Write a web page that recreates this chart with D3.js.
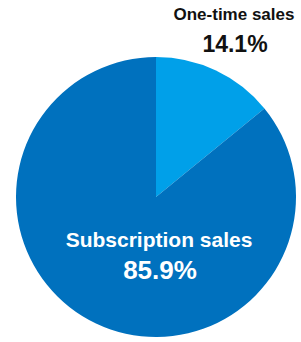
<!DOCTYPE html>
<html>
<head>
<meta charset="utf-8">
<script src="https://cdn.jsdelivr.net/npm/d3@7"></script>
<style>
  body { margin: 0; background: #fff; }
  text { font-family: "Liberation Sans", Arial, sans-serif; font-weight: bold; }
</style>
</head>
<body>
<div id="chart"></div>
<script>
var categories = ["One-time sales", "Subscription sales"];
var values = [14.1, 85.9];
var colors = ["#00A0E9", "#0071BE"];

var width = 301,
height = 342;
var cx = 156, cy = 197, radius = 140;

var svg = d3.select("#chart").append("svg")
.attr("width", width)
.attr("height", height);

var pie = d3.pie().sort(null).value(function(d) { return d; });
var arc = d3.arc().innerRadius(0).outerRadius(radius);

var data = pie(values);

var g = svg.append("g").attr("transform", "translate(" + cx + "," + cy + ")");

g.selectAll("path")
.data(data)
.enter()
.append("path")
.attr("d", arc)
.style("fill", function(d, i) { return colors[i]; });

// label for the small slice sits outside, above right
svg.append("text")
.attr("x", 234).attr("y", 20)
.attr("text-anchor", "middle")
.style("font-size", "17px")
.style("fill", "#111")
.text(categories[0]);
svg.append("text")
.attr("x", 235).attr("y", 52)
.attr("text-anchor", "middle")
.style("font-size", "23px")
.style("fill", "#111")
.text(values[0].toFixed(1) + "%");

// label for the big slice, inside
svg.append("text")
.attr("x", 159).attr("y", 247)
.attr("text-anchor", "middle")
.style("font-size", "21px")
.style("fill", "#fff")
.text(categories[1]);
svg.append("text")
.attr("x", 160).attr("y", 279)
.attr("text-anchor", "middle")
.style("font-size", "26px")
.style("fill", "#fff")
.text(values[1].toFixed(1) + "%");
</script>
</body>
</html>
